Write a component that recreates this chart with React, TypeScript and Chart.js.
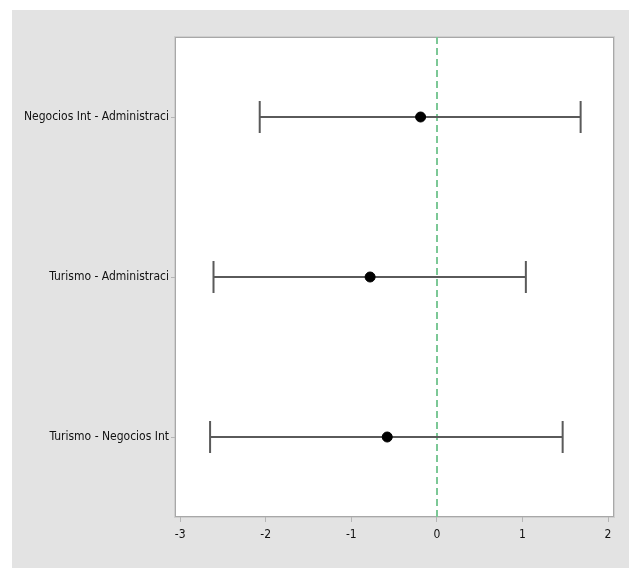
import React, { useEffect, useRef } from "react";
import { Chart, registerables } from "chart.js";

Chart.register(...registerables);

const categories = [
  "Negocios Int - Administraci",
  "Turismo - Administraci",
  "Turismo - Negocios Int",
];
const estimates = [-0.19, -0.78, -0.58];
const lowerBounds = [-2.07, -2.61, -2.65];
const upperBounds = [1.68, 1.04, 1.47];
const xTicks = [-3, -2, -1, 0, 1, 2];
const xMin = -3.06;
const xMax = 2.07;
const referenceValue = 0;

const FONT = "'Liberation Sans Narrow', 'DejaVu Sans Condensed', 'Arial Narrow', sans-serif";

const decorPlugin = {
  id: "decor",
  beforeDraw(chart: any) {
    const { ctx, width, height, chartArea } = chart;
    ctx.save();
    ctx.fillStyle = "#ffffff";
    ctx.fillRect(0, 0, width, height);
    ctx.fillStyle = "#e3e3e3";
    ctx.fillRect(12, 10, width - 12, height - 10);
    ctx.fillStyle = "#ffffff";
    ctx.fillRect(chartArea.left, chartArea.top, chartArea.right - chartArea.left, chartArea.bottom - chartArea.top);
    ctx.strokeStyle = "#cfcfcf";
    ctx.lineWidth = 1;
    ctx.strokeRect(chartArea.left - 0.5, chartArea.top - 0.5, chartArea.right - chartArea.left + 1, chartArea.bottom - chartArea.top + 1);
    ctx.strokeStyle = "#a8a8a8";
    ctx.strokeRect(chartArea.left + 0.5, chartArea.top + 0.5, chartArea.right - chartArea.left - 1, chartArea.bottom - chartArea.top - 1);
    ctx.restore();
  },
  beforeDatasetsDraw(chart: any) {
    const { ctx, chartArea, scales } = chart;
    const xs = scales.x;
    const ys = scales.y;
    ctx.save();
    // reference line
    const rx = Math.round(xs.getPixelForValue(referenceValue));
    ctx.strokeStyle = "#7cc896";
    ctx.lineWidth = 2;
    ctx.setLineDash([7, 4]);
    ctx.beginPath();
    ctx.moveTo(rx, chartArea.top);
    ctx.lineTo(rx, chartArea.bottom);
    ctx.stroke();
    ctx.setLineDash([]);
    // error bars
    ctx.strokeStyle = "#5a5a5a";
    ctx.lineWidth = 2;
    categories.forEach((c, i) => {
      const y = ys.getPixelForValue(i);
      const x1 = xs.getPixelForValue(lowerBounds[i]);
      const x2 = xs.getPixelForValue(upperBounds[i]);
      ctx.beginPath();
      ctx.moveTo(x1, y);
      ctx.lineTo(x2, y);
      ctx.moveTo(x1, y - 16);
      ctx.lineTo(x1, y + 16);
      ctx.moveTo(x2, y - 16);
      ctx.lineTo(x2, y + 16);
      ctx.stroke();
    });
    ctx.restore();
  },
};

export default function App() {
  const ref = useRef<HTMLCanvasElement>(null);
  useEffect(() => {
    if (!ref.current) return;
    const chart = new Chart(ref.current, {
      type: "scatter",
      data: {
        labels: categories,
        datasets: [
          {
            data: categories.map((c, i) => ({ x: estimates[i], y: c })) as any,
            backgroundColor: "#000000",
            borderColor: "#000000",
            pointRadius: 5,
            pointHoverRadius: 5,
          },
        ],
      },
      options: {
        responsive: false,
        animation: false,
        devicePixelRatio: 1,
        layout: { padding: { left: 0, top: 37, right: 15, bottom: 0 } },
        plugins: { legend: { display: false }, tooltip: { enabled: false } },
        scales: {
          x: {
            type: "linear",
            min: xMin,
            max: xMax,
            afterBuildTicks: (s: any) => {
              s.ticks = xTicks.map((v) => ({ value: v }));
            },
            afterFit: (s: any) => {
              s.height = 51;
            },
            grid: { drawOnChartArea: false, drawTicks: true, tickLength: 5, color: "#b5b5b5" },
            border: { display: false },
            ticks: { color: "#111", font: { family: FONT, size: 12 }, padding: 6 },
          },
          y: {
            type: "category",
            labels: categories,
            offset: true,
            afterFit: (s: any) => {
              s.width = 175;
            },
            grid: { drawOnChartArea: false, drawTicks: true, tickLength: 4, color: "#b5b5b5", offset: false },
            border: { display: false },
            ticks: { color: "#111", font: { family: FONT, size: 12 }, padding: 2 },
          },
        },
      },
      plugins: [decorPlugin],
    });
    return () => chart.destroy();
  }, []);
  return (
    <div style={{ position: "fixed", left: 0, top: 0, width: 629, height: 568 }}>
      <canvas ref={ref} width={629} height={568} style={{ display: "block" }} />
    </div>
  );
}
